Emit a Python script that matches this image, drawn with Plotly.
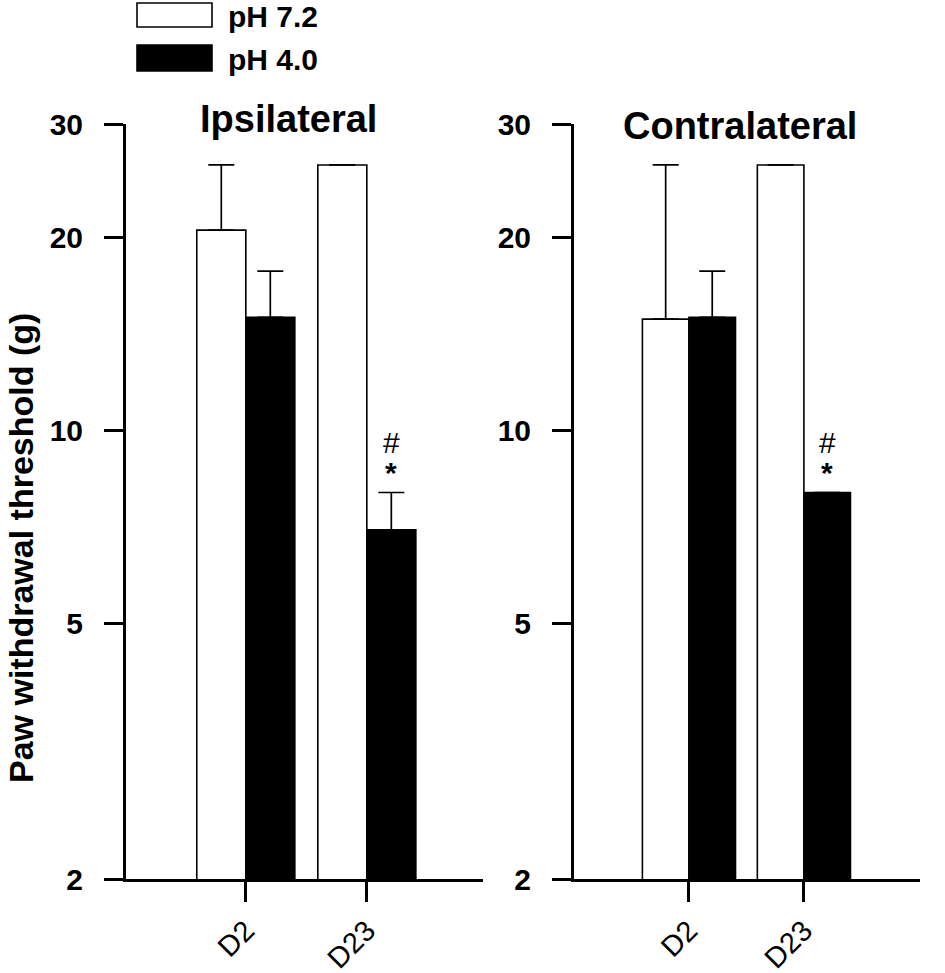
import math
import plotly.graph_objects as go

# ---------------- data ----------------
categories = ["D2", "D23"]
series_names = ["pH 7.2", "pH 4.0"]

ipsi_ph72 = [20.5, 25.9]
ipsi_ph72_err = [5.4, 0.0]
ipsi_ph40 = [15.0, 7.0]
ipsi_ph40_err = [2.7, 1.0]

contra_ph72 = [14.9, 25.9]
contra_ph72_err = [11.0, 0.0]
contra_ph40 = [15.0, 8.0]
contra_ph40_err = [2.7, 0.0]

panel_titles = ["Ipsilateral", "Contralateral"]
y_tickvals = [2, 5, 10, 20, 30]
y_ticktext = ["2", "5", "10", "20", "30"]
sig_marks = ["#", "*"]
y_title = "Paw withdrawal threshold (g)"

# ---------------- style ----------------
FONT = "Liberation Sans, Arial, Helvetica, sans-serif"
W, H = 945, 973


def px(x):
    return x / W


def py(y):
    return 1 - y / H


fig = go.Figure()


def add_panel(vals72, err72, vals40, err40, xa, ya):
    fig.add_trace(go.Bar(
        x=categories, y=vals72, name=series_names[0], showlegend=False,
        marker=dict(color="white", line=dict(color="black", width=1.6)),
        error_y=dict(type="data", symmetric=False, array=err72,
                     arrayminus=[0] * len(err72), color="black",
                     thickness=1.7, width=13),
        xaxis=xa, yaxis=ya))
    fig.add_trace(go.Bar(
        x=categories, y=vals40, name=series_names[1], showlegend=False,
        marker=dict(color="black", line=dict(color="black", width=1.6)),
        error_y=dict(type="data", symmetric=False, array=err40,
                     arrayminus=[0] * len(err40), color="black",
                     thickness=1.7, width=13),
        xaxis=xa, yaxis=ya))


add_panel(ipsi_ph72, ipsi_ph72_err, ipsi_ph40, ipsi_ph40_err, "x", "y")
add_panel(contra_ph72, contra_ph72_err, contra_ph40, contra_ph40_err, "x2", "y2")

ydom = [py(879), py(124)]
yrange = [math.log10(2), math.log10(30)]

common_y = dict(
    type="log", range=yrange, domain=ydom, automargin=False,
    tickvals=y_tickvals, ticktext=y_ticktext,
    ticks="outside", ticklen=19, tickwidth=3, tickcolor="black",
    showline=True, linewidth=3, linecolor="black",
    showgrid=False, zeroline=False,
    tickfont=dict(family=FONT, size=30, color="black", weight="bold"),
    ticklabelstandoff=15,
)
common_x = dict(
    type="category", automargin=False,
    ticks="outside", ticklen=20, tickwidth=3, tickcolor="black",
    showline=True, linewidth=3, linecolor="black",
    showgrid=False, zeroline=False, tickangle=-45,
    tickfont=dict(family=FONT, size=29, color="black"),
)

fig.update_layout(
    template="none",
    width=W, height=H,
    margin=dict(l=0, r=0, t=0, b=0, pad=0, autoexpand=False),
    paper_bgcolor="white", plot_bgcolor="white",
    barmode="group", bargap=0.19, bargroupgap=0,
    showlegend=False,
    xaxis=dict(common_x, domain=[px(126), px(483)], range=[-0.99, 1.96], anchor="y"),
    yaxis=dict(common_y, anchor="x"),
    xaxis2=dict(common_x, domain=[px(574), px(920)], range=[-1.0, 2.01], anchor="y2"),
    yaxis2=dict(common_y, anchor="x2"),
)

annotations = []
# panel titles
annotations.append(dict(text=panel_titles[0], xref="paper", yref="paper",
                        x=px(288), y=py(119), xanchor="center", yanchor="middle",
                        showarrow=False,
                        font=dict(family=FONT, size=38, color="black", weight="bold")))
annotations.append(dict(text=panel_titles[1], xref="paper", yref="paper",
                        x=px(740), y=py(126), xanchor="center", yanchor="middle",
                        showarrow=False,
                        font=dict(family=FONT, size=38, color="black", weight="bold")))
# y title
annotations.append(dict(text=y_title, xref="paper", yref="paper",
                        x=px(21), y=py(548), xanchor="center", yanchor="middle",
                        textangle=-90, showarrow=False,
                        font=dict(family=FONT, size=34, color="black", weight="bold")))

# significance marks over D23 pH 4.0 bars
for xa, ya, vals, errs, shift in [("x", "y", ipsi_ph40, ipsi_ph40_err, 24.5),
                                  ("x2", "y2", contra_ph40, contra_ph40_err, 23.5)]:
    top = vals[1] + errs[1]
    annotations.append(dict(text=sig_marks[0], xref=xa, yref=ya, x=categories[1],
                            y=math.log10(top), xshift=shift, yshift=50,
                            showarrow=False, yanchor="middle",
                            font=dict(family=FONT, size=30, color="black")))
    annotations.append(dict(text=sig_marks[1], xref=xa, yref=ya, x=categories[1],
                            y=math.log10(top), xshift=shift, yshift=20,
                            showarrow=False, yanchor="middle",
                            font=dict(family=FONT, size=30, color="black", weight="bold")))

# legend (drawn manually to match the wide swatches)
shapes = [
    dict(type="rect", xref="paper", yref="paper",
         x0=px(137), x1=px(212), y0=py(27), y1=py(3),
         fillcolor="white", line=dict(color="black", width=1.6)),
    dict(type="rect", xref="paper", yref="paper",
         x0=px(137), x1=px(212), y0=py(71), y1=py(45),
         fillcolor="black", line=dict(color="black", width=1.6)),
]
annotations.append(dict(text=series_names[0], xref="paper", yref="paper",
                        x=px(226), y=py(17), xanchor="left", yanchor="middle",
                        showarrow=False,
                        font=dict(family=FONT, size=30, color="black", weight="bold")))
annotations.append(dict(text=series_names[1], xref="paper", yref="paper",
                        x=px(226), y=py(59), xanchor="left", yanchor="middle",
                        showarrow=False,
                        font=dict(family=FONT, size=30, color="black", weight="bold")))

fig.update_layout(annotations=annotations, shapes=shapes)
fig.write_html(
    "out.html",
    config={"displayModeBar": False, "staticPlot": True},
    post_script="document.body.style.margin='0px';document.body.style.padding='0px';",
)
